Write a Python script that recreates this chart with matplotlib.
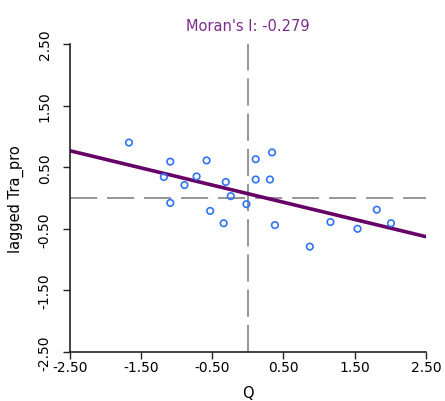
import numpy as np
import matplotlib.pyplot as plt

plt.rcParams['font.family'] = ['DejaVu Sans']

# standardized Tra_pro (Q) and its spatial lag
q = [-1.67, -1.09, -0.58, -1.18, -0.72, -0.89, -0.31, -0.24, -1.09, -0.53, -0.34,
     -0.02, 0.11, 0.11, 0.34, 0.31, 0.38, 0.87, 1.16, 1.54, 1.81, 2.01]
lag = [0.90, 0.59, 0.61, 0.34, 0.35, 0.21, 0.26, 0.03, -0.08, -0.21, -0.41,
       -0.10, 0.63, 0.30, 0.74, 0.30, -0.44, -0.79, -0.39, -0.50, -0.19, -0.41]
moran_i = -0.279
intercept = 0.07
ticks = [-2.5, -1.5, -0.5, 0.5, 1.5, 2.5]

fig = plt.figure(figsize=(4.45, 4.02), dpi=100)
ax = fig.add_axes([0.157, 0.122, 0.800, 0.766])

ax.axvline(0, color='#8c8c8c', lw=1.3, ls=(0, (15, 4.5)), zorder=1)
ax.axhline(0, color='#8c8c8c', lw=1.3, ls=(0, (15, 5.5)), zorder=1)

ax.scatter(q, lag, s=22, facecolors='none', edgecolors='#2f74f5', linewidths=1.2, zorder=3)

xs = np.array([-2.5, 2.5])
ax.plot(xs, intercept + moran_i * xs, color='#660066', lw=2.6, zorder=2)

ax.set_xlim(-2.5, 2.5)
ax.set_ylim(-2.5, 2.5)
ax.set_xticks(ticks)
ax.set_yticks(ticks)
ax.set_xticklabels(['%.2f' % t for t in ticks], fontsize=10)
ax.set_yticklabels(['%.2f' % t for t in ticks], fontsize=10, rotation=90, va='center')
ax.tick_params(direction='out', length=5, width=1, color='#222222')
ax.tick_params(axis='y', pad=8)
ax.tick_params(axis='x', pad=1)

for s in ['top', 'right']:
    ax.spines[s].set_visible(False)
for s in ['left', 'bottom']:
    ax.spines[s].set_linewidth(1.2)
    ax.spines[s].set_color('#222222')

ax.set_xlabel('Q', fontsize=10.5, labelpad=8)
ax.set_ylabel('lagged Tra_pro', fontsize=10.5, labelpad=10)
ax.set_title("Moran's I: -0.279", color='#7a2c8a', fontsize=10.5, pad=10)

fig.savefig('out.png', dpi=100)
